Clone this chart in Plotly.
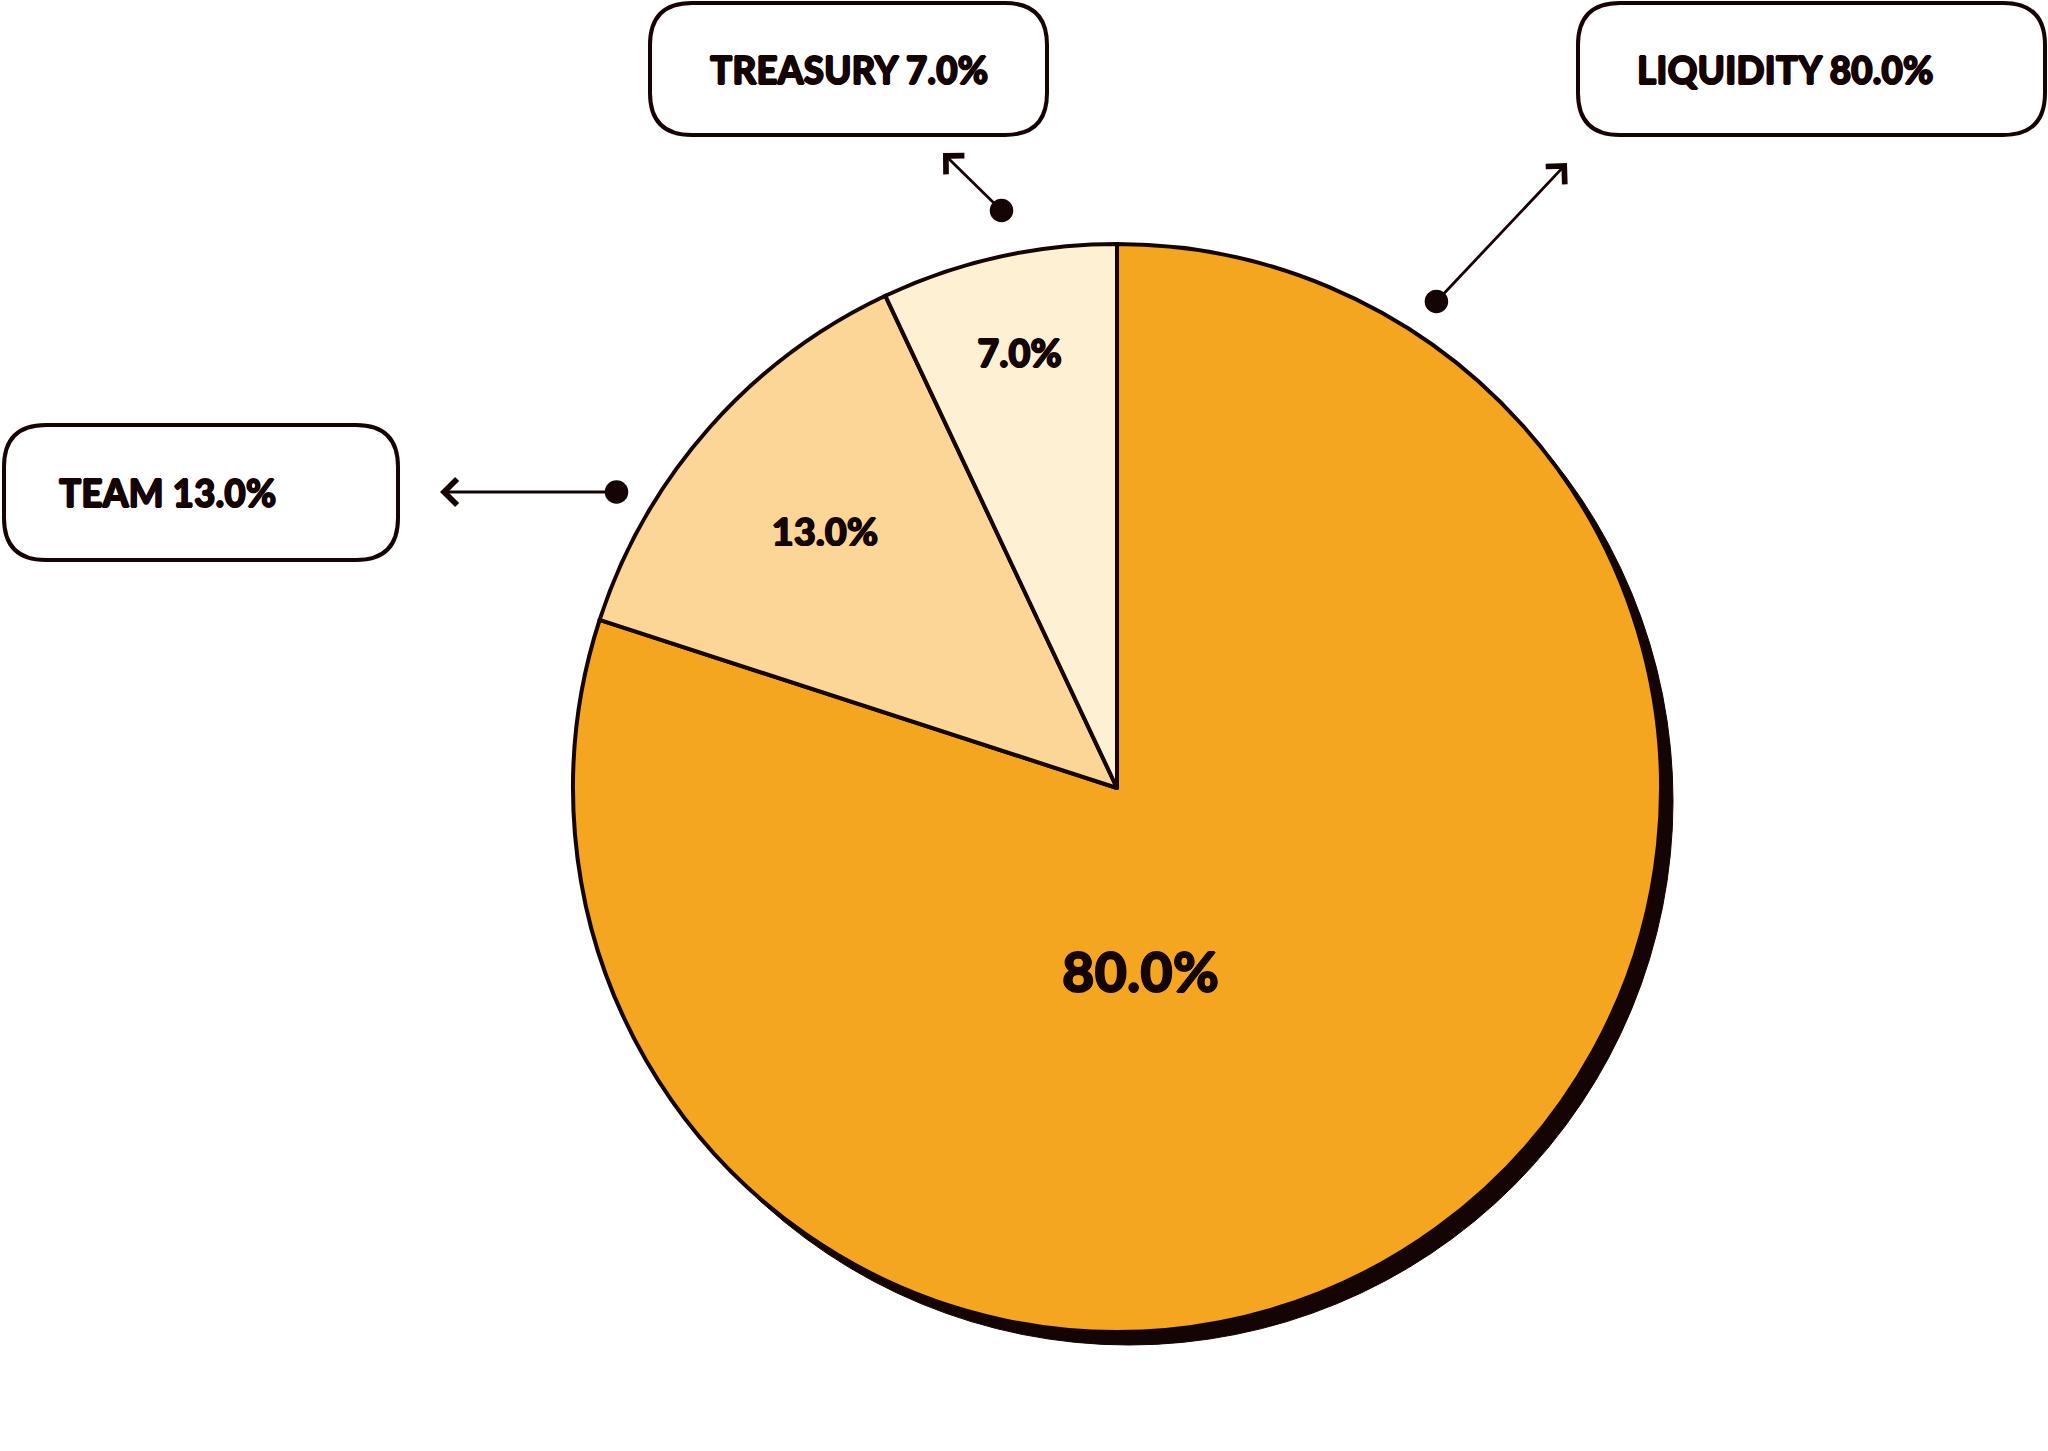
import plotly.graph_objects as go

W, H = 2048, 1451

# ---- data ----
categories = ["Liquidity", "Team", "Treasury"]
values = [80.0, 13.0, 7.0]
box_labels = ["LIQUIDITY 80.0%", "TEAM 13.0%", "TREASURY 7.0%"]

# ---- style ----
colors = ["#F4A620", "#FCD696", "#FEF0D3"]
ink = "#140404"
FONT = "Lato, Roboto, sans-serif"
THICK = "0.8px 0 0 #140404, -0.8px 0 0 #140404, 0 0.8px 0 #140404, 0 -0.8px 0 #140404"

def px(x):
    return x / W

def py(y):
    return 1 - y / H

# pie geometry (pixels)
cx, cy, r = 1117, 788, 544
total = sum(values)
pct_text = [f"{v / total:.1%}" for v in values]

fig = go.Figure()
fig.add_trace(go.Pie(
    labels=categories,
    values=values,
    sort=False,
    direction="clockwise",
    rotation=0,
    marker=dict(colors=colors, line=dict(color=ink, width=4)),
    texttemplate=["", "%{percent:.1%}", "%{percent:.1%}"],
    textposition="inside",
    insidetextorientation="horizontal",
    textfont=dict(family=FONT, size=[54, 38, 38], color=ink, weight=900, shadow=THICK),
    domain=dict(x=[px(cx - r), px(cx + r)], y=[py(cy + r), py(cy - r)]),
    showlegend=False,
    hoverinfo="label+percent",
))

shapes = []
# shadow circle
sx, sy = 12, 13
shapes.append(dict(type="circle", xref="paper", yref="paper", layer="below",
                   x0=px(cx - r + sx), x1=px(cx + r + sx),
                   y0=py(cy + r + sy), y1=py(cy - r + sy),
                   fillcolor=ink, line=dict(color=ink, width=1)))

def rounded_box(x0, y0, x1, y1, rad):
    p = (f"M {px(x0+rad)},{py(y0)} L {px(x1-rad)},{py(y0)} "
         f"Q {px(x1)},{py(y0)} {px(x1)},{py(y0+rad)} "
         f"L {px(x1)},{py(y1-rad)} Q {px(x1)},{py(y1)} {px(x1-rad)},{py(y1)} "
         f"L {px(x0+rad)},{py(y1)} Q {px(x0)},{py(y1)} {px(x0)},{py(y1-rad)} "
         f"L {px(x0)},{py(y0+rad)} Q {px(x0)},{py(y0)} {px(x0+rad)},{py(y0)} Z")
    return dict(type="path", xref="paper", yref="paper", path=p,
                line=dict(color=ink, width=4), fillcolor="white", layer="above")

# boxes: liquidity, team, treasury
boxes = [(1578, 3, 2045, 135), (4, 425, 398, 560), (650, 3, 1047, 135)]
text_x = [1635, 57, 708]
for b in boxes:
    shapes.append(rounded_box(*b, 42))

annotations = []
for lab, b, tx in zip(box_labels, boxes, text_x):
    annotations.append(dict(xref="paper", yref="paper", x=px(tx), y=py((b[1] + b[3]) / 2),
                            xanchor="left", yanchor="middle", showarrow=False,
                            text=lab, font=dict(family=FONT, size=37, color=ink, weight=900,
                                                shadow=THICK)))

# big slice label
annotations.append(dict(xref="paper", yref="paper", x=px(1140), y=py(970),
                        xanchor="center", yanchor="middle", showarrow=False,
                        text=pct_text[0],
                        font=dict(family=FONT, size=56, color=ink, weight=900, shadow=THICK)))

# arrows: (tip, dot)
arrows = [((1567, 163), (1435, 303)), ((440, 492), (618, 492)), ((943, 153), (1003, 212))]
for (tx_, ty_), (dx, dy) in arrows:
    annotations.append(dict(xref="paper", yref="paper", x=px(tx_), y=py(ty_),
                            ax=dx - tx_, ay=dy - ty_, text="", showarrow=True,
                            arrowhead=4, arrowsize=1.8, arrowwidth=2.8, arrowcolor=ink,
                            startarrowhead=6, startarrowsize=2.1, arrowside="end+start",
                            standoff=0, startstandoff=0))

fig.update_layout(
    width=W, height=H,
    margin=dict(l=0, r=0, t=0, b=0),
    paper_bgcolor="white", plot_bgcolor="white",
    shapes=shapes, annotations=annotations,
)

fig.write_html("out.html",
               config={"displayModeBar": False},
               post_script="document.body.style.margin='0';"
                           "document.documentElement.style.overflow='hidden';")
